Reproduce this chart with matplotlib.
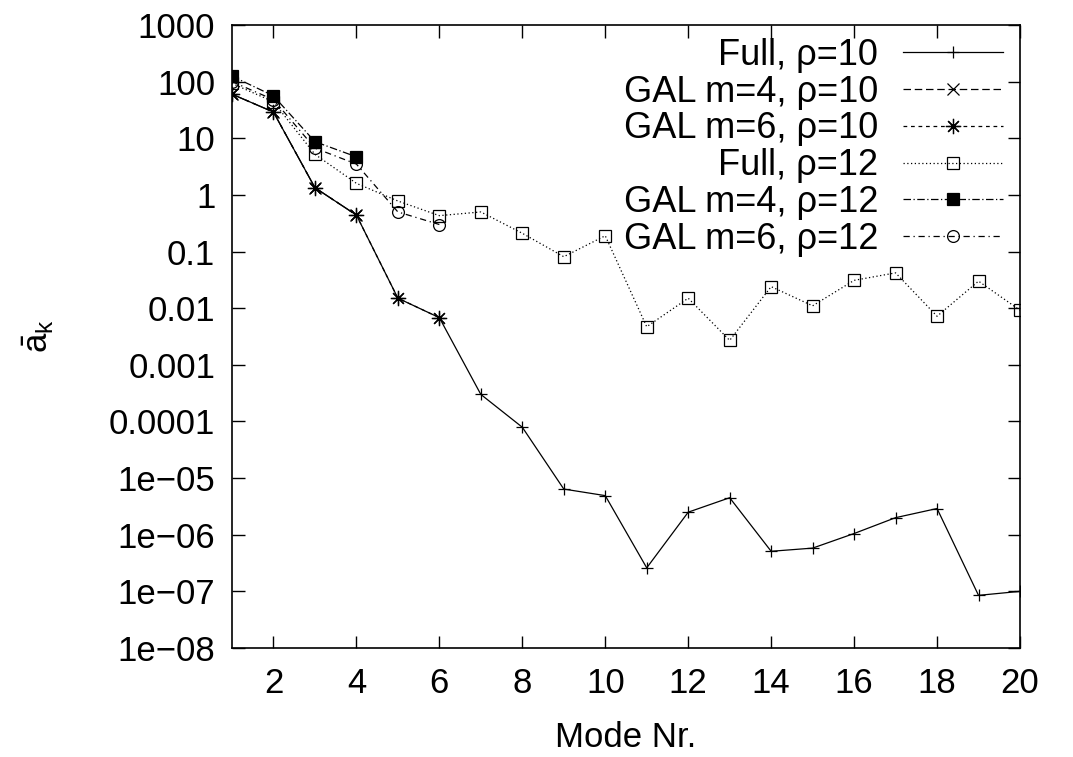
import numpy as np
import matplotlib
matplotlib.use("Agg")
import matplotlib.pyplot as plt
from matplotlib.ticker import FixedLocator, FixedFormatter

plt.rcParams['font.family'] = ['Liberation Sans', 'DejaVu Sans']

# data
modes = np.arange(1, 21)
full_r10 = [60, 29, 1.34, 0.44, 0.015, 0.0068, 3.0e-4, 7.9e-5, 6.4e-6, 4.9e-6,
            2.6e-7, 2.5e-6, 4.5e-6, 5.1e-7, 5.8e-7, 1.05e-6, 2.0e-6, 2.9e-6, 8.5e-8, 1.0e-7]
gal4_r10 = [60, 29, 1.34, 0.44]
gal6_r10 = [60, 29, 1.34, 0.44, 0.015, 0.0068]
full_r12 = [93, 44, 5.2, 1.6, 0.78, 0.43, 0.50, 0.21, 0.081, 0.19,
            0.0047, 0.015, 0.0027, 0.024, 0.011, 0.031, 0.042, 0.0072, 0.030, 0.0092]
gal4_r12 = [125, 56, 8.7, 4.7]
gal6_r12 = [100, 48, 6.7, 3.5, 0.50, 0.30]

ytick_vals = [1e3, 1e2, 1e1, 1, 0.1, 0.01, 1e-3, 1e-4, 1e-5, 1e-6, 1e-7, 1e-8]
ytick_labels = ['1000', '100', '10', '1', '0.1', '0.01', '0.001', '0.0001',
                '1e\u221205', '1e\u221206', '1e\u221207', '1e\u221208']
xtick_vals = [2, 4, 6, 8, 10, 12, 14, 16, 18, 20]

fs = 25
lw = 0.9

fig = plt.figure(figsize=(10.73, 7.57), dpi=100)
ax = fig.add_axes([0.2162, 0.144, 0.7344, 0.823])

ax.plot(modes, full_r10, color='black', lw=lw, ls='-', marker='+', ms=9, mew=0.9,
        label='Full, \u03c1=10')
ax.plot(modes[:len(gal4_r10)], gal4_r10, color='black', lw=lw, dashes=(6, 3), marker='x',
        ms=8, mew=0.9, label='GAL m=4, \u03c1=10')
ax.plot(modes[:len(gal6_r10)], gal6_r10, color='black', lw=lw, dashes=(3, 3),
        marker=(8, 2, 0), ms=11, mew=0.9, label='GAL m=6, \u03c1=10')
ax.plot(modes, full_r12, color='black', lw=lw, dashes=(1, 2), marker='s', ms=8.5,
        mew=0.9, mfc='none', label='Full, \u03c1=12')
ax.plot(modes[:len(gal4_r12)], gal4_r12, color='black', lw=lw, dashes=(6, 2, 1, 2),
        marker='s', ms=8.5, mew=0.9, label='GAL m=4, \u03c1=12')
ax.plot(modes[:len(gal6_r12)], gal6_r12, color='black', lw=lw, dashes=(5, 3, 1, 3),
        marker='o', ms=8.5, mew=0.9, mfc='none', label='GAL m=6, \u03c1=12')

ax.set_yscale('log')
ax.set_xlim(1, 20)
ax.set_ylim(1e-8, 1e3)
ax.yaxis.set_major_locator(FixedLocator(ytick_vals))
ax.yaxis.set_major_formatter(FixedFormatter(ytick_labels))
ax.yaxis.set_minor_locator(FixedLocator([]))
ax.set_xticks(xtick_vals)
ax.tick_params(direction='in', length=9, width=1, labelsize=fs, top=True, right=True)
ax.tick_params(axis='x', pad=14)
ax.tick_params(axis='y', pad=12)
for sp in ax.spines.values():
    sp.set_linewidth(1.2)

ax.set_xlabel('Mode Nr.', fontsize=fs, labelpad=15)
ax.set_ylabel(r'$\mathregular{\bar{a}_k}$', fontsize=fs, labelpad=38)

leg = ax.legend(loc='upper right', bbox_to_anchor=(1.01, 1.02), frameon=False,
                markerfirst=False, numpoints=1, fontsize=26, handlelength=2.75,
                handletextpad=0.7, labelspacing=0.05, borderaxespad=0.3)

fig.savefig('out.png', dpi=100)
